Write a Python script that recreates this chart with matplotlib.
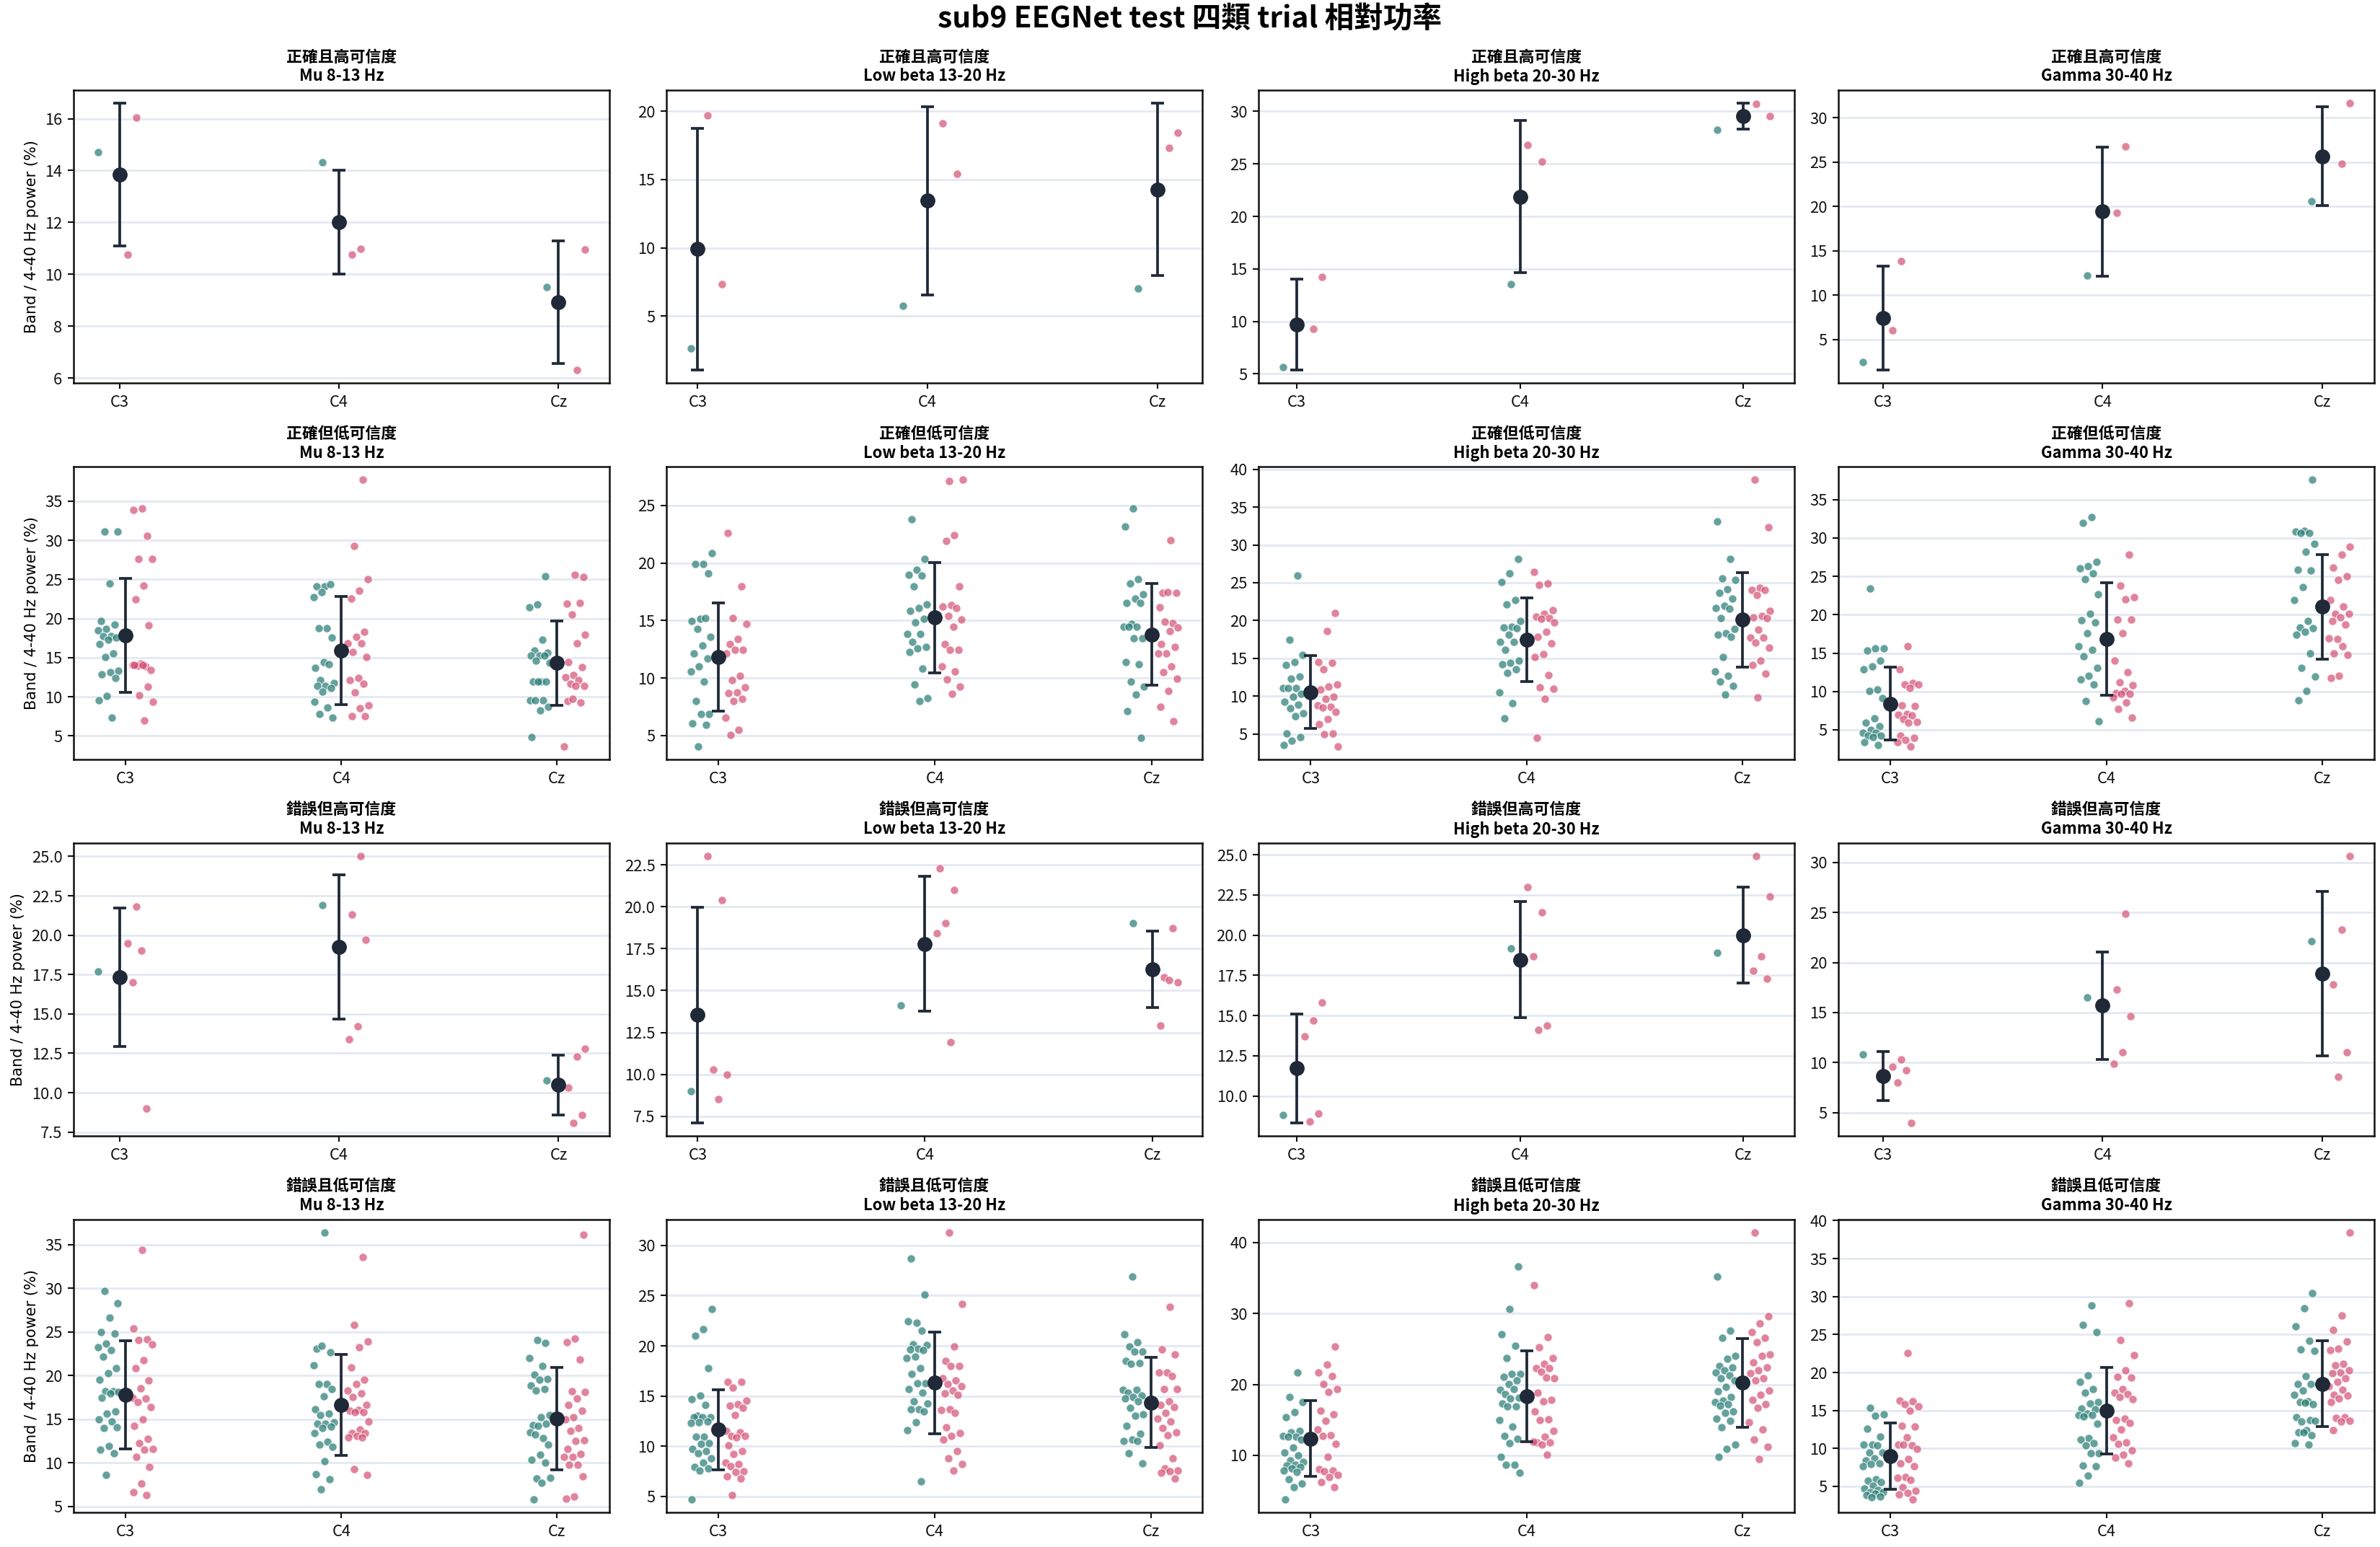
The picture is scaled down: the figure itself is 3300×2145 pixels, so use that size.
import numpy as np
import matplotlib
matplotlib.use("Agg")
import matplotlib.pyplot as plt
from matplotlib.ticker import MaxNLocator

plt.rcParams['font.family'] = ['Noto Sans CJK TC', 'DejaVu Sans']

# ---------------- data ----------------
channels = ['C3', 'C4', 'Cz']
bands = ['Mu 8-13 Hz', 'Low beta 13-20 Hz', 'High beta 20-30 Hz', 'Gamma 30-40 Hz']
groups = ['正確且高可信度', '正確但低可信度', '錯誤但高可信度', '錯誤且低可信度']
suptitle = 'sub9 EEGNet test 四類 trial 相對功率'
ylabel = 'Band / 4-40 Hz power (%)'

# 正確且高可信度
ch_mu_teal = [[14.70], [14.32], [9.50]]
ch_mu_pink = [[16.05, 10.75], [10.98, 10.75], [10.95, 6.32]]
ch_lb_teal = [[2.64], [5.77], [7.04]]
ch_lb_pink = [[19.72, 7.34], [19.13, 15.43], [18.45, 17.34]]
ch_hb_teal = [[5.63], [13.54], [28.28]]
ch_hb_pink = [[14.23, 9.29], [26.81, 25.23], [30.74, 29.56]]
ch_ga_teal = [[2.44], [12.21], [20.55]]
ch_ga_pink = [[13.84, 6.05], [26.77, 19.30], [31.60, 24.83]]

# 正確但低可信度
cl_mu_teal = [
    [31.1, 31.1, 24.43, 19.7, 19.18, 18.7, 18.44, 17.73, 17.73, 17.55, 17.27, 16.69, 15.49, 15.09, 13.28, 13.1, 12.85, 12.39, 10.08, 9.56, 7.38],
    [24.12, 24.12, 24.34, 23.39, 22.68, 18.72, 18.72, 17.52, 14.39, 13.65, 14.11, 12.11, 11.8, 11.4, 11.4, 11.1, 10.64, 9.35, 8.64, 7.75, 7.29],
    [25.38, 21.82, 21.39, 17.24, 15.86, 15.65, 15.25, 15.3, 15.3, 14.57, 14.32, 11.93, 11.93, 11.93, 11.93, 9.59, 9.59, 9.5, 8.73, 8.3, 4.89]]
cl_mu_pink = [
    [34.02, 33.83, 30.51, 27.57, 27.57, 24.16, 22.4, 19.09, 14.23, 14.08, 13.92, 13.95, 13.43, 14.1, 14.1, 11.34, 10.18, 9.35, 7.01],
    [37.7, 29.22, 24.98, 23.51, 22.5, 18.26, 17.61, 16.84, 16.87, 15.68, 15.03, 12.39, 12.11, 11.62, 10.55, 8.89, 8.49, 7.5, 7.5],
    [25.29, 25.54, 21.88, 21.94, 20.5, 17.89, 16.87, 14.39, 13.74, 12.73, 12.48, 12.17, 11.68, 11.37, 11.37, 9.44, 9.26, 9.69, 3.69]]
cl_lb_teal = [
    [20.84, 19.92, 19.92, 19.09, 15.14, 14.99, 15.18, 14.30, 13.61, 12.86, 12.13, 11.67, 10.98, 10.6, 9.68, 8.03, 6.86, 6.9, 6.04, 5.92, 4.08],
    [23.77, 20.34, 19.4, 19.0, 18.88, 17.98, 16.39, 16.06, 15.85, 15.16, 14.82, 13.86, 13.82, 13.15, 12.69, 12.57, 12.29, 10.81, 9.43, 8.24, 7.97],
    [24.73, 23.16, 18.58, 18.19, 17.25, 16.89, 16.54, 16.54, 14.72, 14.49, 14.49, 14.43, 13.46, 13.46, 11.37, 11.17, 9.68, 9.28, 8.55, 7.15, 4.79]]
cl_lb_pink = [
    [22.58, 17.94, 15.18, 14.72, 13.42, 12.98, 12.48, 12.46, 12.13, 10.2, 9.79, 9.22, 8.76, 8.66, 8.16, 7.97, 6.53, 5.48, 5.08],
    [27.15, 27.22, 22.45, 21.95, 17.94, 16.37, 16.2, 16.06, 15.43, 15.07, 14.45, 12.98, 12.44, 12.46, 11.04, 10.58, 9.89, 9.28, 8.62],
    [22.01, 17.39, 17.43, 17.45, 16.14, 14.8, 14.9, 14.4, 14.11, 12.98, 12.69, 12.15, 12.11, 11.0, 10.54, 9.97, 8.87, 7.49, 6.23]]
cl_hb_teal = [
    [25.92, 17.43, 15.46, 14.54, 14.16, 12.57, 12.31, 11.11, 11.11, 11.11, 10.34, 9.96, 9.29, 8.85, 8.37, 7.74, 7.36, 5.04, 4.62, 4.11, 3.51],
    [28.11, 26.2, 25.06, 22.71, 22.17, 19.97, 19.15, 19.08, 18.96, 18.13, 17.18, 17.18, 16.1, 14.67, 14.44, 14.19, 13.52, 13.05, 10.5, 9.07, 7.04],
    [33.07, 28.11, 25.54, 25.35, 24.11, 23.69, 22.9, 21.95, 21.66, 21.53, 20.32, 18.89, 18.29, 18.16, 17.81, 15.14, 13.24, 12.73, 11.96, 11.33, 10.22]]
cl_hb_pink = [
    [20.96, 18.58, 14.48, 14.38, 13.52, 11.52, 11.23, 10.85, 9.96, 9.65, 8.75, 8.6, 8.47, 7.9, 6.94, 6.27, 5.04, 4.97, 3.38],
    [26.4, 24.87, 24.68, 21.37, 20.9, 20.52, 20.3, 20.23, 19.78, 18.48, 17.81, 16.95, 15.59, 15.21, 12.76, 11.17, 10.98, 9.68, 4.46],
    [38.6, 32.31, 24.36, 24.05, 24.0, 23.34, 21.28, 20.61, 20.39, 20.36, 18.77, 17.75, 17.72, 17.05, 16.38, 14.73, 14.13, 12.98, 9.8]]
cl_ga_teal = [
    [23.46, 15.66, 15.66, 15.31, 14.06, 13.28, 12.84, 10.27, 10.02, 9.17, 6.54, 5.94, 5.47, 5.0, 4.6, 4.6, 4.22, 4.22, 4.06, 3.37, 3.06],
    [32.77, 31.93, 26.85, 26.29, 26.03, 25.4, 24.6, 22.7, 20.1, 19.25, 18.97, 17.63, 15.88, 15.4, 14.62, 13.06, 12.02, 11.61, 10.92, 8.79, 6.1],
    [37.57, 30.96, 30.8, 30.64, 30.64, 29.29, 28.17, 25.85, 25.72, 23.56, 21.9, 19.22, 18.32, 18.2, 17.73, 17.38, 15.0, 13.06, 11.9, 10.11, 8.89]]
cl_ga_pink = [
    [15.85, 12.84, 11.14, 10.92, 10.9, 10.45, 8.2, 8.13, 7.1, 6.97, 6.88, 6.44, 6.0, 5.94, 4.28, 4.0, 3.65, 3.37, 2.87],
    [27.88, 23.75, 22.27, 22.05, 19.33, 19.33, 17.63, 13.97, 12.55, 11.2, 10.83, 10.05, 9.8, 9.7, 9.7, 9.26, 8.54, 7.76, 6.63],
    [28.86, 27.88, 26.1, 25.06, 24.5, 21.9, 21.07, 20.1, 20.1, 19.67, 19.2, 18.67, 16.82, 16.91, 15.94, 14.94, 14.75, 12.08, 11.8]]

# 錯誤但高可信度
wh_mu_teal = [[17.7], [21.9], [10.8]]
wh_mu_pink = [[21.8, 19.5, 19.0, 17.0, 9.0], [25.0, 21.3, 19.7, 14.2, 13.4], [12.8, 12.3, 10.3, 8.6, 8.1]]
wh_lb_teal = [[9.0], [14.1], [19.0]]
wh_lb_pink = [[23.0, 20.4, 10.3, 10.0, 8.5], [22.3, 21.0, 19.0, 18.4, 11.9], [18.7, 15.8, 15.5, 15.6, 12.9]]
wh_hb_teal = [[8.8], [19.2], [18.9]]
wh_hb_pink = [[15.8, 14.7, 13.7, 8.9, 8.4], [23.0, 21.4, 18.7, 14.4, 14.1], [24.9, 22.4, 18.7, 17.8, 17.3]]
wh_ga_teal = [[10.8], [16.5], [22.1]]
wh_ga_pink = [[10.3, 9.6, 9.2, 8.0, 4.0], [24.9, 17.3, 14.6, 11.0, 9.9], [30.6, 23.3, 17.8, 11.0, 8.6]]

# 錯誤且低可信度
wl_mu_teal = [
    [29.73, 28.27, 26.61, 25.0, 24.79, 23.66, 23.21, 22.91, 22.14, 20.87, 20.29, 19.52, 18.19, 18.19, 18.08, 17.97, 17.45, 15.84, 15.6, 14.93, 14.71, 13.97, 14.05, 11.9, 11.46, 11.1, 8.64],
    [36.35, 23.08, 22.64, 23.41, 21.17, 18.99, 18.99, 18.47, 17.58, 16.12, 15.6, 15.43, 14.66, 14.44, 14.44, 14.16, 14.02, 13.39, 12.37, 12.06, 11.79, 10.16, 8.67, 8.14, 6.98],
    [23.77, 24.1, 21.97, 21.09, 20.13, 19.63, 19.52, 18.85, 18.41, 18.25, 15.43, 15.18, 14.27, 14.44, 14.22, 13.47, 12.78, 13.2, 12.09, 10.9, 10.35, 10.02, 8.17, 8.28, 7.73, 5.83]]
wl_mu_pink = [
    [34.37, 25.39, 24.18, 24.1, 23.55, 21.72, 20.81, 19.43, 18.49, 17.45, 17.34, 16.92, 16.37, 14.93, 14.22, 12.7, 12.28, 11.59, 11.46, 10.71, 9.55, 7.65, 6.6, 6.32],
    [33.54, 25.84, 23.9, 23.21, 20.9, 19.52, 18.99, 18.25, 17.94, 17.53, 16.65, 16.04, 15.96, 15.82, 15.82, 14.69, 13.8, 13.44, 13.42, 13.06, 12.92, 12.92, 9.3, 8.59],
    [36.1, 24.21, 23.79, 21.86, 18.16, 18.08, 17.34, 16.65, 15.93, 15.21, 14.93, 14.02, 13.61, 12.56, 12.45, 11.59, 11.04, 10.63, 10.71, 9.8, 9.8, 8.42, 6.16, 5.85]]
wl_lb_teal = [
    [23.7, 21.65, 21.0, 17.81, 15.08, 14.66, 14.15, 13.05, 12.9, 12.88, 12.88, 12.5, 12.38, 12.33, 10.96, 10.96, 10.34, 10.24, 9.71, 9.52, 9.33, 8.83, 8.35, 7.97, 7.83, 7.61, 4.74],
    [28.73, 25.07, 22.27, 22.46, 21.55, 20.18, 20.06, 19.7, 19.66, 19.54, 18.94, 18.77, 17.76, 17.19, 16.28, 16.28, 15.73, 15.32, 14.51, 14.29, 13.69, 13.69, 13.5, 12.38, 11.63, 6.48],
    [26.93, 21.19, 20.4, 19.9, 19.46, 19.42, 18.48, 18.29, 18.24, 15.61, 15.61, 15.37, 15.04, 14.94, 14.77, 14.46, 13.81, 13.21, 13.05, 12.02, 11.25, 10.65, 10.53, 10.53, 9.33, 8.33]]
wl_lb_pink = [
    [16.4, 16.42, 15.87, 14.53, 14.2, 14.03, 13.81, 13.12, 11.56, 11.42, 11.01, 11.0, 10.89, 10.08, 9.53, 9.21, 8.38, 8.21, 8.04, 7.49, 7.42, 7.03, 6.77, 5.17],
    [31.25, 24.2, 19.9, 18.53, 18.03, 18.03, 16.76, 16.59, 16.23, 15.99, 15.56, 15.27, 15.1, 13.72, 13.64, 13.36, 11.87, 11.32, 11.03, 10.7, 9.5, 8.81, 8.26, 7.56],
    [23.85, 19.68, 19.15, 17.38, 17.38, 17.0, 15.73, 15.73, 14.48, 14.12, 13.93, 13.36, 12.78, 12.5, 11.85, 11.42, 11.13, 10.08, 8.83, 7.83, 7.59, 7.54, 7.39, 6.77]]
wl_hb_teal = [
    [21.63, 18.27, 17.49, 16.07, 15.42, 13.49, 13.29, 12.78, 12.58, 12.58, 12.27, 11.08, 10.41, 10.0, 9.32, 9.08, 8.64, 8.54, 8.37, 8.17, 7.86, 7.69, 6.64, 5.97, 5.56, 3.83],
    [36.64, 30.58, 27.08, 25.49, 23.76, 21.46, 21.46, 21.05, 20.61, 20.03, 19.22, 19.39, 18.61, 18.1, 18.0, 17.29, 16.92, 16.85, 14.92, 14.1, 12.78, 12.31, 11.69, 9.8, 8.64, 8.64, 7.53],
    [35.25, 27.56, 26.51, 24.0, 23.59, 22.58, 22.37, 21.97, 21.69, 21.25, 20.85, 20.54, 19.63, 19.02, 18.27, 17.76, 17.49, 17.25, 16.98, 16.14, 15.97, 15.19, 14.88, 13.97, 11.49, 10.95, 9.83]]
wl_hb_pink = [
    [25.29, 22.75, 21.69, 21.22, 20.1, 19.36, 18.95, 16.24, 15.76, 14.88, 13.69, 12.81, 12.71, 11.59, 9.83, 8.1, 7.9, 7.76, 7.29, 6.95, 6.24, 5.49],
    [33.97, 26.71, 25.22, 23.76, 22.85, 22.31, 22.31, 21.76, 20.88, 20.92, 18.81, 17.83, 17.66, 16.14, 15.02, 14.95, 13.42, 12.61, 11.8, 11.8, 11.49, 11.93, 10.07],
    [41.36, 29.66, 28.64, 27.36, 26.54, 25.97, 24.27, 24.03, 23.12, 22.44, 22.03, 21.59, 20.85, 20.61, 19.12, 18.51, 17.86, 17.22, 16.68, 14.64, 13.63, 12.2, 11.19, 9.46]]
wl_ga_teal = [
    [15.34, 14.45, 14.29, 12.55, 11.54, 10.55, 10.55, 10.4, 9.45, 9.45, 8.72, 8.46, 7.99, 7.92, 7.64, 5.93, 5.71, 5.58, 5.13, 4.72, 4.5, 4.28, 4.28, 4.09, 3.84, 3.68, 3.58],
    [28.81, 26.24, 25.36, 19.65, 18.73, 17.78, 17.31, 16.13, 15.88, 15.22, 15.18, 14.55, 14.39, 14.39, 14.17, 13.28, 11.38, 11.16, 10.68, 10.43, 9.41, 9.41, 7.73, 7.64, 6.4, 5.45],
    [30.49, 28.49, 26.05, 24.15, 23.01, 22.82, 19.56, 18.48, 18.45, 17.62, 17.02, 16.17, 16.1, 15.85, 15.97, 14.1, 13.72, 13.5, 13.63, 12.36, 12.11, 11.73, 12.11, 10.65, 10.49]]
wl_ga_pink = [
    [22.57, 16.32, 16.23, 15.82, 15.56, 14.93, 12.96, 12.87, 11.41, 10.49, 10.43, 10.52, 9.89, 8.62, 8.08, 7.7, 6.24, 6.12, 5.83, 4.94, 4.44, 4.18, 3.96, 3.33],
    [29.16, 24.25, 22.31, 20.25, 19.43, 19.3, 17.81, 17.34, 17.15, 16.8, 16.45, 13.95, 13.72, 13.31, 12.46, 11.44, 10.78, 10.62, 9.7, 9.13, 8.84, 8.05],
    [38.38, 27.54, 25.64, 24.12, 23.17, 22.98, 21.14, 20.95, 20.29, 20.03, 19.9, 19.21, 18.8, 18.19, 17.69, 17.02, 16.93, 16.55, 16.07, 14.07, 14.01, 13.63, 13.53, 12.36]]

teal_rows = [[ch_mu_teal, ch_lb_teal, ch_hb_teal, ch_ga_teal],
             [cl_mu_teal, cl_lb_teal, cl_hb_teal, cl_ga_teal],
             [wh_mu_teal, wh_lb_teal, wh_hb_teal, wh_ga_teal],
             [wl_mu_teal, wl_lb_teal, wl_hb_teal, wl_ga_teal]]
pink_rows = [[ch_mu_pink, ch_lb_pink, ch_hb_pink, ch_ga_pink],
             [cl_mu_pink, cl_lb_pink, cl_hb_pink, cl_ga_pink],
             [wh_mu_pink, wh_lb_pink, wh_hb_pink, wh_ga_pink],
             [wl_mu_pink, wl_lb_pink, wl_hb_pink, wl_ga_pink]]

# ---------------- style ----------------
TEAL = '#2a7d76'
PINK = '#d2496e'
MEAN = '#1f2937'
GRID = '#e3e8f0'

W, H = 3300, 2145
fig = plt.figure(figsize=(22, 14.3), dpi=150)
col_left = [102, 924, 1745, 2549]
row_top = [125, 647, 1169, 1691]
ax_w, ax_h = 743, 406


def jitter(n, k):
    i = np.arange(n)
    return (((i + 0.37 * k + 0.5) * 0.6180339887) % 1.0 - 0.5) * 0.1


for r in range(4):
    for c in range(4):
        ax = fig.add_axes([col_left[c] / W, 1 - (row_top[r] + ax_h) / H, ax_w / W, ax_h / H])
        teal = teal_rows[r][c]
        pink = pink_rows[r][c]
        means, sds = [], []
        for k in range(3):
            t = np.asarray(teal[k], float)
            p = np.asarray(pink[k], float)
            ax.scatter(k - 0.08 + jitter(len(t), k + 3 * c), t, s=30, color=TEAL, alpha=0.72,
                       edgecolors='white', linewidths=0.6, zorder=2)
            ax.scatter(k + 0.08 + jitter(len(p), k + 5 + 3 * c), p, s=30, color=PINK, alpha=0.68,
                       edgecolors='white', linewidths=0.6, zorder=2)
            allv = np.concatenate([t, p])
            means.append(allv.mean())
            sds.append(allv.std(ddof=1))
        ax.errorbar(np.arange(3), means, yerr=sds, fmt='o', color=MEAN, ecolor=MEAN,
                    markersize=9, elinewidth=1.8, capsize=4.5, capthick=1.8, zorder=4)
        ax.set_xticks(np.arange(3))
        ax.set_xticklabels(channels)
        ax.yaxis.set_major_locator(MaxNLocator(nbins=8, steps=[1, 2, 2.5, 5, 10]))
        ax.yaxis.grid(True, color=GRID, linewidth=1.3)
        ax.set_axisbelow(True)
        for sp in ax.spines.values():
            sp.set_linewidth(1.2)
            sp.set_color('#111111')
        ax.tick_params(labelsize=10.5, length=4, width=1.0, colors='#111111')
        ax.set_title(f'{groups[r]}\n{bands[c]}', fontsize=10.5, fontweight='bold', pad=6)
        if c == 0:
            ax.set_ylabel(ylabel, fontsize=10, family='DejaVu Sans')

fig.text(0.5, 1 - 27 / H, suptitle, ha='center', va='center', fontsize=19.5, fontweight='bold')
fig.savefig('out.png', dpi=150)
